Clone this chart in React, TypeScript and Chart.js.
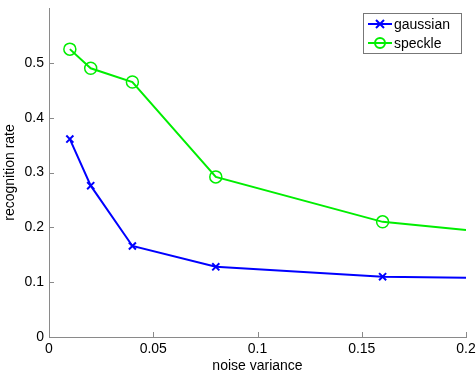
import { useEffect, useRef } from "react";
import { Chart, registerables } from "chart.js";
Chart.register(...registerables);

const noiseVariance = [0.01, 0.02, 0.04, 0.08, 0.16, 0.2];
const gaussian = [0.361, 0.276, 0.166, 0.128, 0.110, 0.108];
const speckle = [0.525, 0.490, 0.465, 0.292, 0.210, 0.195];
const xTicks = [0, 0.05, 0.1, 0.15, 0.2];
const yTicks = [0, 0.1, 0.2, 0.3, 0.4, 0.5];
const seriesNames = ["gaussian", "speckle"];
const seriesColors = ["#0000ff", "#00ee00"];

const FONT = "'Liberation Sans', Arial, Helvetica, sans-serif";
const AXIS = "#8a8a8a";

const zeroPad = (s: any) => {
  s.paddingLeft = 0;
  s.paddingRight = 0;
  s.paddingTop = 0;
  s.paddingBottom = 0;
};

const decor = {
  id: "decor",
  afterDraw(chart: any) {
    const ctx = chart.ctx;
    const { left, bottom } = chart.chartArea;
    const xs = chart.scales.x;
    const ys = chart.scales.y;
    ctx.save();
    ctx.strokeStyle = AXIS;
    ctx.lineWidth = 1;
    ctx.beginPath();
    xTicks.forEach((v) => {
      const px = Math.round(xs.getPixelForValue(v)) + 0.5;
      ctx.moveTo(px, bottom);
      ctx.lineTo(px, bottom - 5);
    });
    yTicks.forEach((v) => {
      const py = Math.round(ys.getPixelForValue(v)) + 0.5;
      ctx.moveTo(left, py);
      ctx.lineTo(left + 5, py);
    });
    ctx.stroke();
    // legend
    const bx = 363.5, by = 13.5, bw = 98, bh = 40;
    ctx.fillStyle = "#fff";
    ctx.fillRect(bx, by, bw, bh);
    ctx.strokeStyle = "#777";
    ctx.strokeRect(bx, by, bw, bh);
    ctx.font = `14px ${FONT}`;
    ctx.textBaseline = "middle";
    ctx.textAlign = "left";
    seriesNames.forEach((name, i) => {
      const cy = 24 + i * 19;
      const col = seriesColors[i];
      ctx.strokeStyle = col;
      ctx.lineWidth = 2;
      ctx.beginPath();
      ctx.moveTo(368, cy);
      ctx.lineTo(392, cy);
      ctx.stroke();
      ctx.beginPath();
      if (i === 0) {
        ctx.moveTo(376, cy - 4);
        ctx.lineTo(384, cy + 4);
        ctx.moveTo(376, cy + 4);
        ctx.lineTo(384, cy - 4);
      } else {
        ctx.arc(380, cy, 5, 0, Math.PI * 2);
      }
      ctx.stroke();
      ctx.fillStyle = "#000";
      ctx.fillText(name, 394, cy + 1);
    });
    ctx.restore();
  },
};

export default function App() {
  const ref = useRef<HTMLCanvasElement>(null);
  useEffect(() => {
    const chart = new Chart(ref.current!, {
      type: "line",
      data: {
        datasets: [
          {
            label: seriesNames[0],
            data: noiseVariance.map((x, i) => ({ x, y: gaussian[i] })),
            borderColor: seriesColors[0],
            backgroundColor: "transparent",
            borderWidth: 2,
            pointStyle: "crossRot",
            pointRadius: noiseVariance.map((_, i) => (i === noiseVariance.length - 1 ? 0 : 5)),
            pointBorderWidth: 2,
            pointBorderColor: seriesColors[0],
            tension: 0,
          },
          {
            label: seriesNames[1],
            data: noiseVariance.map((x, i) => ({ x, y: speckle[i] })),
            borderColor: seriesColors[1],
            backgroundColor: "transparent",
            borderWidth: 2,
            pointStyle: "circle",
            pointRadius: noiseVariance.map((_, i) => (i === noiseVariance.length - 1 ? 0 : 6)),
            pointBorderWidth: 1.5,
            pointBorderColor: seriesColors[1],
            pointBackgroundColor: "transparent",
            tension: 0,
          },
        ],
      },
      options: {
        animation: false,
        responsive: false,
        layout: { padding: { left: 0, right: 10, top: 8, bottom: 0 } },
        plugins: { legend: { display: false }, tooltip: { enabled: false } },
        scales: {
          x: {
            type: "linear",
            min: 0,
            max: 0.2,
            afterBuildTicks: (s: any) => {
              s.ticks = xTicks.map((v) => ({ value: v }));
            },
            afterFit: (s: any) => {
              s.height = 39;
              zeroPad(s);
            },
            grid: { display: false, drawTicks: false },
            border: { display: true, color: AXIS, width: 1 },
            ticks: {
              color: "#000",
              padding: 4,
              maxRotation: 0,
              font: { family: FONT, size: 14 },
              callback: (v: any) => String(v),
            },
            title: {
              display: true,
              text: "noise variance",
              color: "#000",
              font: { family: FONT, size: 14 },
              padding: { top: 0, bottom: 1 },
            },
          },
          y: {
            type: "linear",
            min: 0,
            max: 0.6,
            afterBuildTicks: (s: any) => {
              s.ticks = yTicks.map((v) => ({ value: v }));
            },
            afterFit: (s: any) => {
              s.width = 49;
              zeroPad(s);
            },
            grid: { display: false, drawTicks: false },
            border: { display: true, color: AXIS, width: 1 },
            ticks: {
              color: "#000",
              padding: 5,
              font: { family: FONT, size: 14 },
              callback: (v: any) => String(v),
            },
            title: {
              display: true,
              text: "recognition rate",
              color: "#000",
              font: { family: FONT, size: 14 },
              padding: { top: 2, bottom: 0 },
            },
          },
        },
      },
      plugins: [decor],
    });
    return () => chart.destroy();
  }, []);
  return (
    <div style={{ position: "fixed", left: 0, top: 0, width: 476, height: 376, background: "#fff" }}>
      <canvas ref={ref} width={476} height={376} style={{ width: 476, height: 376 }} />
    </div>
  );
}
